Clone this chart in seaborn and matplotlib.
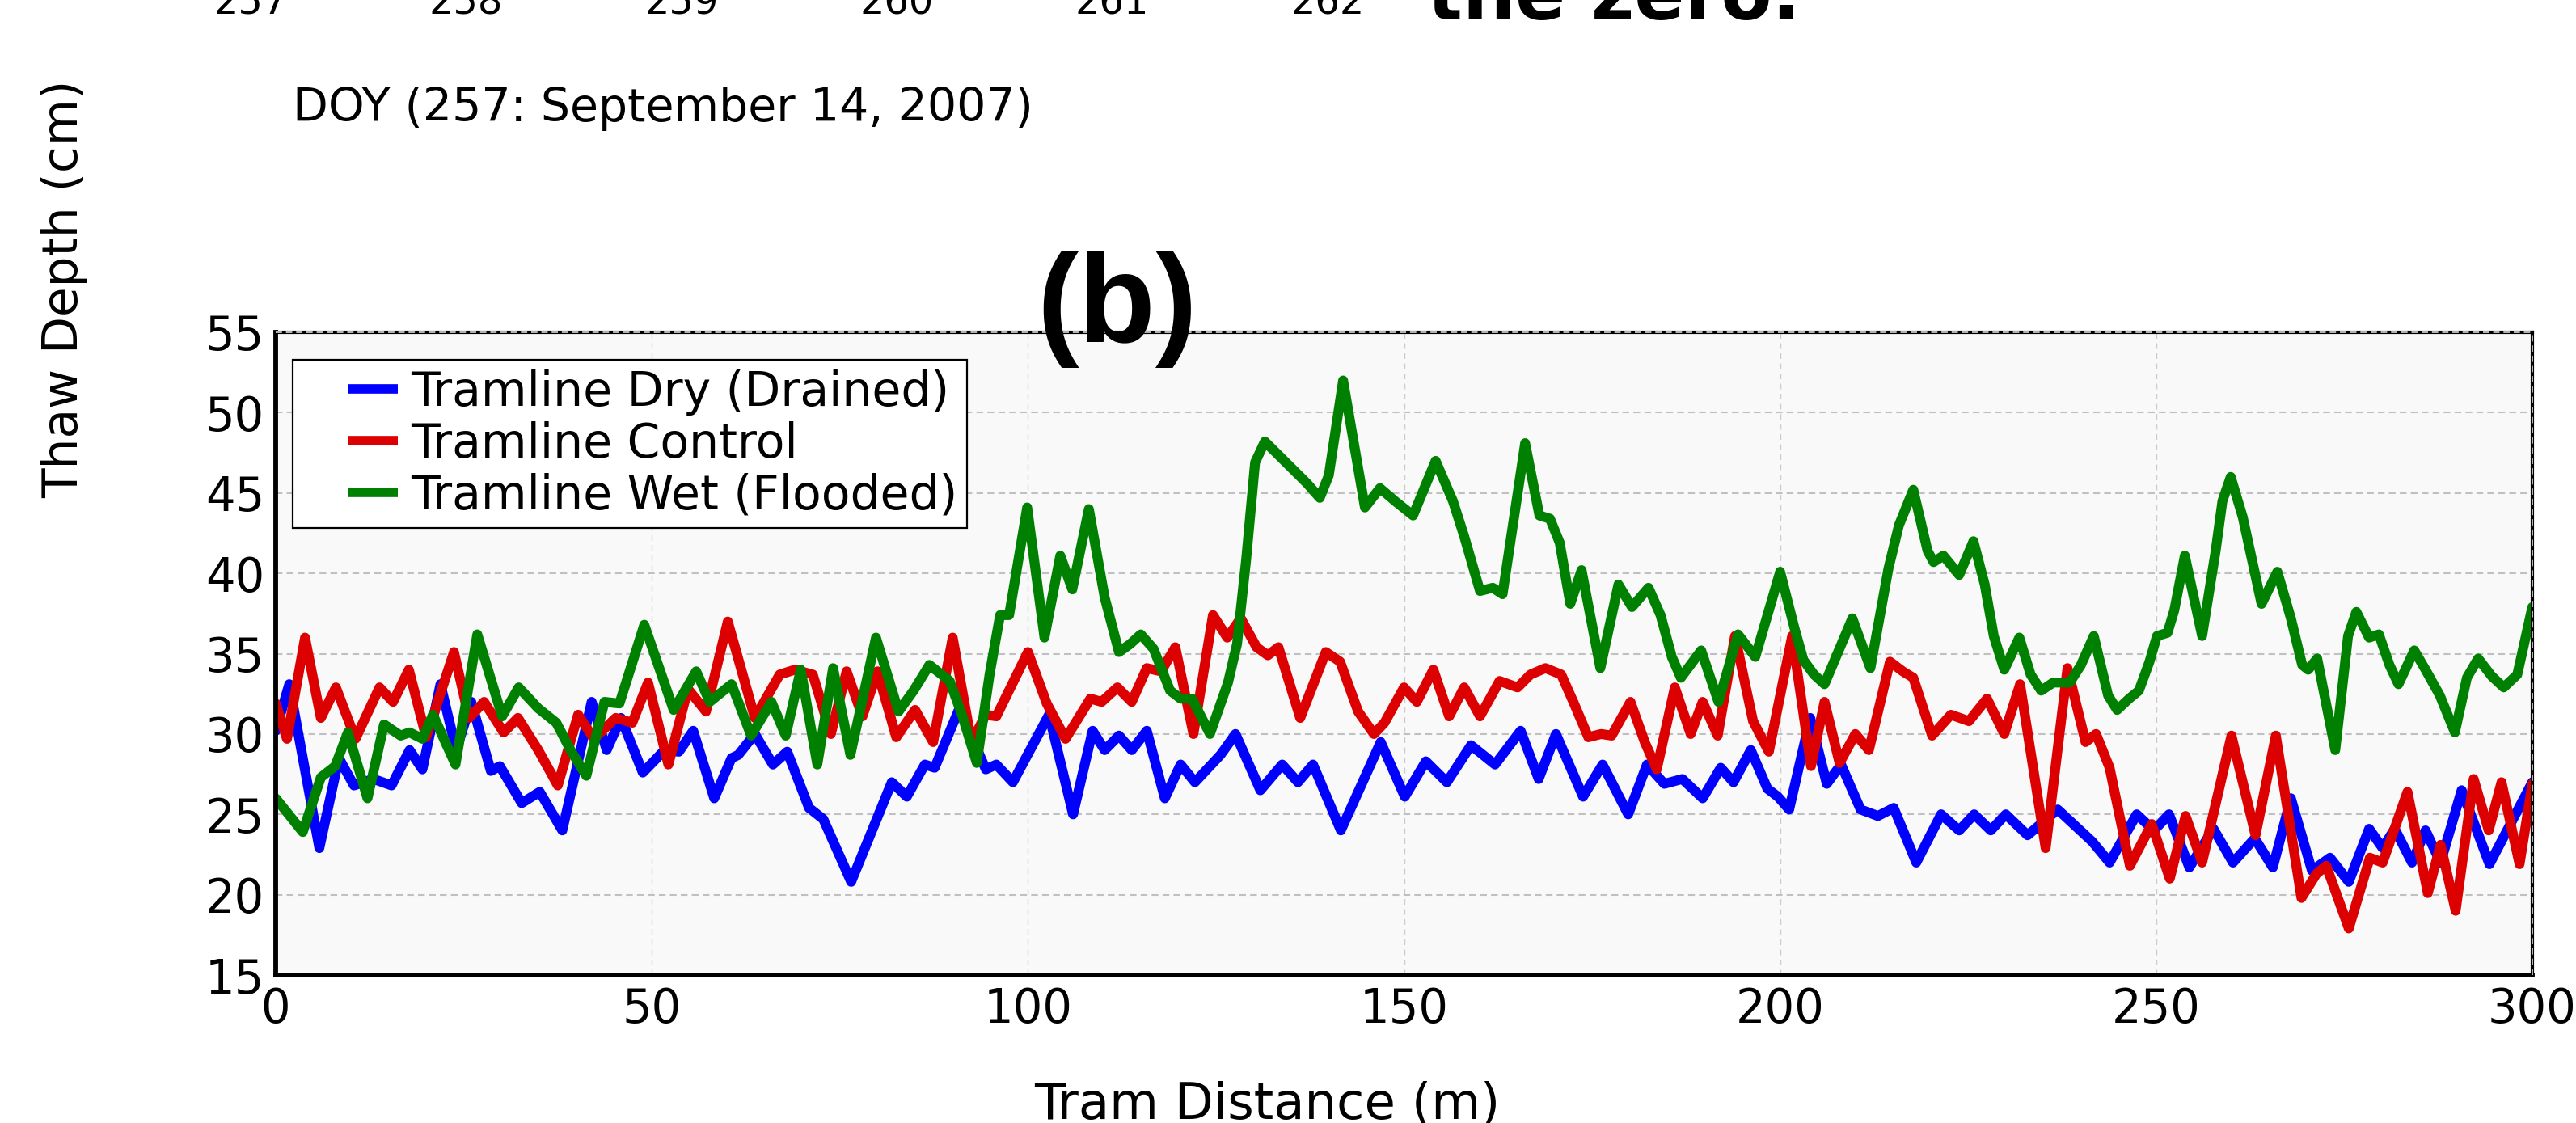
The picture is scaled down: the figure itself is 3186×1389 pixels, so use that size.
import numpy as np
import pandas as pd
import matplotlib
matplotlib.use("Agg")
import matplotlib.pyplot as plt
import seaborn as sns
from matplotlib.legend_handler import HandlerLine2D

# ---------------- data ----------------
series_names = ["Tramline Dry (Drained)", "Tramline Control", "Tramline Wet (Flooded)"]
series_colors = ["#0000ff", "#dd0000", "#008000"]

dry_dist = [0, 1.8, 5.8, 8.4, 10.4, 13.0, 15.4, 17.8, 19.5, 21.9, 24.0, 26.0, 28.6, 29.8,
            32.7, 35.1, 38.1, 42.0, 44.0, 45.9, 48.8, 51.7, 53.6, 55.5, 58.3, 60.6, 61.5,
            63.7, 66.1, 68.0, 70.9, 72.8, 76.5, 81.9, 83.9, 86.3, 87.6, 90.9, 94.4, 95.8,
            98.0, 102.8, 106.0, 108.6, 110.2, 112.1, 113.8, 115.8, 118.2, 120.3, 122.2,
            125.6, 127.6, 130.9, 133.8, 135.9, 137.9, 141.6, 146.9, 150.1, 152.9, 155.7,
            158.9, 162.1, 165.5, 167.9, 170.2, 173.8, 176.4, 179.8, 182.3, 184.6, 187.0,
            189.7, 192.1, 193.8, 196.1, 198.3, 199.7, 201.2, 204.0, 206.2, 208.1, 210.7,
            213.0, 215.1, 218.1, 221.4, 223.8, 225.8, 228.0, 230.0, 232.9, 236.9, 241.5,
            243.8, 247.4, 249.7, 251.7, 254.4, 257.6, 260.2, 263.1, 265.5, 267.9, 270.7,
            273.1, 275.6, 278.3, 280.1, 281.7, 284.0, 285.8, 287.8, 290.6, 294.3, 300.0]
dry_depth = [30.2, 33.1, 22.9, 28.5, 26.8, 27.2, 26.8, 29.0, 27.8, 33.1, 29.0, 32.0, 27.7, 28.0,
             25.7, 26.4, 24.0, 32.0, 29.0, 31.0, 27.6, 29.0, 28.9, 30.2, 26.0, 28.5, 28.7,
             30.0, 28.1, 28.9, 25.4, 24.7, 20.8, 27.0, 26.1, 28.1, 27.9, 31.6, 27.8, 28.1,
             27.0, 31.2, 25.0, 30.2, 29.0, 29.9, 29.0, 30.2, 26.0, 28.1, 27.0,
             28.7, 30.0, 26.5, 28.1, 27.0, 28.1, 24.0, 29.5, 26.1, 28.3, 27.0,
             29.3, 28.1, 30.2, 27.2, 30.0, 26.1, 28.1, 25.0, 28.1, 26.9, 27.2,
             26.0, 27.9, 27.0, 29.0, 26.6, 26.1, 25.3, 31.0, 26.9, 28.1, 25.3,
             24.9, 25.4, 22.0, 25.0, 24.0, 25.0, 24.0, 25.0, 23.7, 25.3, 23.3,
             22.0, 25.0, 24.0, 25.0, 21.7, 24.1, 22.0, 23.5, 21.7, 26.0, 21.5,
             22.3, 20.8, 24.1, 22.9, 24.1, 22.0, 24.0, 22.0, 26.5, 21.9, 27.0]

control_dist = [0, 1.5, 3.9, 6.0, 8.0, 10.6, 13.8, 15.6, 17.7, 20.0, 23.7, 25.7, 27.7, 30.3,
                32.2, 34.9, 37.5, 40.2, 42.3, 45.2, 47.4, 49.5, 52.2, 54.8, 57.2, 60.1, 63.7,
                67.0, 69.0, 71.4, 73.8, 75.9, 78.0, 80.0, 82.5, 85.0, 87.4, 90.0, 92.5, 94.4,
                95.8, 100.0, 102.5, 105.0, 108.3, 109.8, 111.9, 113.8, 115.8, 117.7, 119.6,
                122.0, 124.6, 126.5, 128.3, 130.4, 131.9, 133.3, 136.2, 139.6, 141.5, 143.9,
                146.0, 147.4, 150.0, 151.7, 153.9, 156.0, 158.0, 160.1, 162.7, 165.1, 166.8,
                168.8, 170.9, 172.6, 174.5, 176.2, 177.6, 180.1, 182.0, 183.6, 186.0, 188.1,
                189.7, 191.7, 194.0, 196.4, 198.5, 201.6, 204.1, 205.9, 207.9, 210.0, 211.8,
                214.6, 216.3, 217.7, 220.2, 222.7, 225.1, 227.5, 229.8, 231.9, 235.3, 238.2,
                240.6, 242.0, 243.8, 246.5, 249.4, 251.8, 253.9, 256.1, 260.0, 263.2, 265.9,
                269.3, 271.3, 272.6, 275.6, 278.4, 280.1, 283.4, 286.1, 287.8, 289.8, 292.2,
                294.2, 295.9, 298.3, 300.0]
control_depth = [31.9, 29.7, 36.0, 31.0, 32.9, 29.7, 32.9, 32.0, 34.0, 29.8, 35.1, 31.0, 32.0, 30.1,
                 31.0, 29.0, 26.8, 31.2, 29.7, 31.0, 30.7, 33.2, 28.1, 32.8, 31.4, 37.0, 31.0,
                 33.7, 34.0, 33.7, 30.0, 33.9, 31.1, 33.9, 29.8, 31.5, 29.5, 36.0, 29.5, 31.2,
                 31.1, 35.1, 31.9, 29.7, 32.2, 32.0, 32.9, 32.0, 34.1, 33.9, 35.4,
                 30.0, 37.4, 36.0, 37.2, 35.4, 34.9, 35.4, 31.0, 35.1, 34.5, 31.4,
                 30.0, 30.7, 32.9, 32.0, 34.0, 31.1, 32.9, 31.1, 33.3, 32.9, 33.7,
                 34.1, 33.7, 31.9, 29.8, 30.0, 29.9, 32.0, 29.5, 27.8, 32.9, 30.0,
                 32.0, 29.9, 36.1, 30.8, 28.9, 36.1, 28.0, 32.0, 28.2, 30.0, 29.0,
                 34.5, 33.9, 33.5, 29.9, 31.2, 30.8, 32.2, 30.0, 33.1, 22.9, 34.1,
                 29.5, 30.0, 27.9, 21.8, 24.4, 21.0, 24.9, 22.0, 29.9, 23.7, 29.9,
                 19.8, 21.3, 21.8, 17.9, 22.3, 22.0, 26.4, 20.1, 23.1, 19.0, 27.2,
                 24.0, 27.0, 21.9, 26.9]

wet_dist = [0, 1.2, 3.6, 6.0, 7.9, 9.6, 12.2, 14.4, 16.6, 17.8, 19.5, 20.9, 23.9, 26.8, 30.1,
            32.3, 34.9, 37.3, 39.2, 41.3, 43.7, 45.7, 49.0, 52.9, 55.9, 57.7, 60.6, 63.2,
            65.9, 67.8, 69.8, 72.0, 74.1, 76.4, 79.8, 82.8, 84.8, 86.9, 89.6, 91.3, 93.2,
            94.9, 96.3, 97.5, 99.9, 102.2, 104.3, 105.9, 108.1, 110.2, 112.1, 113.6, 115.0,
            116.7, 118.9, 120.3, 121.8, 124.2, 126.6, 127.8, 129.0, 130.2, 131.5, 134.3,
            137.1, 138.8, 140.0, 141.9, 144.8, 146.8, 148.8, 151.2, 154.2, 156.5, 158.0,
            160.1, 161.8, 163.1, 164.7, 166.1, 168.0, 169.4, 170.7, 172.1, 173.6, 176.1,
            178.5, 180.3, 182.5, 184.1, 185.6, 186.8, 189.5, 191.8, 194.4, 196.7, 200.0,
            201.9, 203.1, 204.5, 205.9, 209.6, 212.0, 214.4, 215.8, 217.7, 219.6, 220.4,
            221.7, 223.8, 225.7, 227.2, 228.4, 229.8, 231.8, 233.3, 234.7, 236.3, 238.5,
            240.0, 241.7, 243.6, 244.8, 246.4, 247.7, 249.1, 250.1, 251.5, 252.4, 253.8,
            256.1, 257.9, 258.8, 259.9, 261.5, 264.0, 266.1, 267.9, 269.4, 270.2, 271.4,
            273.8, 275.5, 276.6, 278.3, 279.6, 281.0, 282.2, 284.3, 285.8, 287.7, 289.7,
            291.3, 292.8, 294.6, 296.2, 298.0, 300.0]
wet_depth = [26.0, 25.3, 23.9, 27.3, 28.0, 30.1, 26.0, 30.6, 29.9, 30.1, 29.7, 31.2, 28.1, 36.2, 31.1,
             32.9, 31.6, 30.7, 29.0, 27.4, 32.0, 31.9, 36.8, 31.5, 33.9, 32.0, 33.1, 29.9,
             32.0, 29.9, 34.0, 28.1, 34.1, 28.7, 36.0, 31.4, 32.7, 34.3, 33.3, 31.1, 28.2,
             33.7, 37.4, 37.4, 44.1, 36.0, 41.1, 39.0, 44.0, 38.5, 35.1, 35.6, 36.2,
             35.3, 32.7, 32.2, 32.2, 30.0, 33.2, 35.6, 40.8, 46.9, 48.2, 46.9,
             45.6, 44.7, 46.1, 52.0, 44.1, 45.3, 44.5, 43.6, 47.0, 44.5, 42.3,
             38.9, 39.1, 38.7, 43.7, 48.1, 43.6, 43.4, 41.9, 38.1, 40.2, 34.1,
             39.3, 37.9, 39.1, 37.4, 34.8, 33.5, 35.2, 32.0, 36.2, 34.8, 40.1,
             36.6, 34.6, 33.7, 33.1, 37.2, 34.1, 40.3, 43.0, 45.2, 41.4, 40.7,
             41.1, 39.9, 42.0, 39.3, 36.1, 34.0, 36.0, 33.7, 32.7, 33.2, 33.2,
             34.3, 36.1, 32.4, 31.5, 32.2, 32.7, 34.5, 36.1, 36.3, 37.7, 41.1,
             36.1, 41.4, 44.5, 46.0, 43.5, 38.1, 40.1, 37.2, 34.3, 34.0, 34.7,
             29.0, 36.1, 37.6, 36.0, 36.2, 34.3, 33.1, 35.2, 34.0, 32.4, 30.1,
             33.5, 34.7, 33.6, 32.9, 33.7, 37.9]

x_ticks = [0, 50, 100, 150, 200, 250, 300]
y_ticks = [15, 20, 25, 30, 35, 40, 45, 50, 55]
top_doy_labels = ["257", "258", "259", "260", "261", "262"]

x_label = "Tram Distance (m)"
y_label = "Thaw Depth (cm)"
doy_note = "DOY (257: September 14, 2007)"
panel_tag = "(b)"
cut_caption = "the zero."

# ---------------- build long-form table ----------------
df = pd.concat([
    pd.DataFrame({"distance": dry_dist, "depth": dry_depth, "series": series_names[0]}),
    pd.DataFrame({"distance": control_dist, "depth": control_depth, "series": series_names[1]}),
    pd.DataFrame({"distance": wet_dist, "depth": wet_depth, "series": series_names[2]}),
], ignore_index=True)

# ---------------- style ----------------
sns.set_style("white")
plt.rcParams["font.family"] = ["DejaVu Sans"]
plt.rcParams["text.color"] = "black"
plt.rcParams["axes.labelcolor"] = "black"
plt.rcParams["xtick.color"] = "black"
plt.rcParams["ytick.color"] = "black"

W, H = 3186, 1389
fig = plt.figure(figsize=(W / 100, H / 100), dpi=100, facecolor="white")

ax_left, ax_right, ax_top, ax_bottom = 341, 3132, 411, 1206
ax = fig.add_axes([ax_left / W, 1 - ax_bottom / H, (ax_right - ax_left) / W, (ax_bottom - ax_top) / H])
ax.set_facecolor("#f9f9f9")

sns.lineplot(data=df, x="distance", y="depth", hue="series", hue_order=series_names,
             palette=series_colors, estimator=None, sort=False, linewidth=8.8,
             solid_joinstyle="round", legend=False, ax=ax, zorder=2)

ax.set_xlim(0, 300)
ax.set_ylim(15, 55)
ax.set_xticks(x_ticks)
ax.set_yticks(y_ticks)

# grid
ax.set_axisbelow(True)
ax.yaxis.grid(True, color="#c0c0c0", linewidth=1.5, linestyle=(0, (4, 2.5)))
ax.xaxis.grid(True, color="#cccccc", linewidth=1.0, linestyle=(0, (5, 4)))

# spines
for side in ["left", "bottom"]:
    ax.spines[side].set_linewidth(4.2)
    ax.spines[side].set_color("black")
for side in ["top", "right"]:
    ax.spines[side].set_linewidth(3.0)
    ax.spines[side].set_color("black")
ax.axhline(55, color="#b8b8b8", linewidth=1.4, linestyle=(0, (4, 2.5)), zorder=2.6, clip_on=False)
ax.axvline(300, color="#b8b8b8", linewidth=1.4, linestyle=(0, (4, 2.5)), zorder=2.6, clip_on=False)

ax.tick_params(axis="both", direction="in", length=5.8, width=3, colors="black",
               labelsize=41.5, top=False, right=False)
ax.tick_params(axis="y", pad=10)
ax.tick_params(axis="x", pad=10)

# axis labels
ax.set_xlabel(x_label, fontsize=45, va="baseline", color="black")
ax.xaxis.set_label_coords((1567 - ax_left) / (ax_right - ax_left), (ax_bottom - 1383) / (ax_bottom - ax_top))
ax.set_ylabel(y_label, fontsize=43, va="center", color="black")
ax.yaxis.set_label_coords((80 - ax_left) / (ax_right - ax_left), (ax_bottom - 357) / (ax_bottom - ax_top))

# legend with the line sample set in the right part of its handle box
class OffsetLineHandler(HandlerLine2D):
    def __init__(self, frac, **kw):
        super().__init__(**kw)
        self.frac = frac

    def create_artists(self, legend, orig_handle, xdescent, ydescent, width, height, fontsize, trans):
        artists = super().create_artists(legend, orig_handle, xdescent, ydescent, width, height,
                                         fontsize, trans)
        for a in artists:
            xd = np.asarray(a.get_xdata(), float)
            if xd.size >= 2:
                x0, x1 = xd.min(), xd.max()
                a.set_xdata(x0 + self.frac * (x1 - x0) + (xd - x0) * (1 - self.frac))
                a.set_solid_capstyle("butt")
        return artists

handles = ax.get_lines()[:3]
hmap = {h: OffsetLineHandler(0.484) for h in handles}
leg = ax.legend(handles, series_names, loc="upper left",
                bbox_to_anchor=((362 - ax_left) / (ax_right - ax_left), (ax_bottom - 445) / (ax_bottom - ax_top)),
                borderaxespad=0, fontsize=42, frameon=True, fancybox=False, framealpha=1,
                facecolor="white", edgecolor="black", borderpad=0.2, labelspacing=0.12,
                handlelength=2.03, handletextpad=0.27, handler_map=hmap)
leg.get_frame().set_linewidth(1.6)
for line in leg.get_lines():
    line.set_linewidth(8.4)
for t in leg.get_texts():
    t.set_color("black")

# surrounding figure texts (parts of the composite figure)
doy_x0, doy_step = 310, 266.4
for i, lab in enumerate(top_doy_labels):
    fig.text((doy_x0 + i * doy_step) / W, 1 - 18 / H, lab, fontsize=34.5, ha="center",
             va="baseline", color="black")
fig.text(1765 / W, 1 - 24 / H, cut_caption, fontsize=66, fontweight="bold", ha="left",
         va="baseline", color="black")
fig.text(362 / W, 1 - 150 / H, doy_note, fontsize=41, ha="left", va="baseline", color="black")
fig.text(1382 / W, 1 - 423 / H, panel_tag, fontsize=112, fontweight="bold",
         family=["Liberation Sans", "DejaVu Sans"], ha="center", va="baseline", zorder=5,
         color="black")

fig.savefig("out.png", dpi=100, facecolor="white")
